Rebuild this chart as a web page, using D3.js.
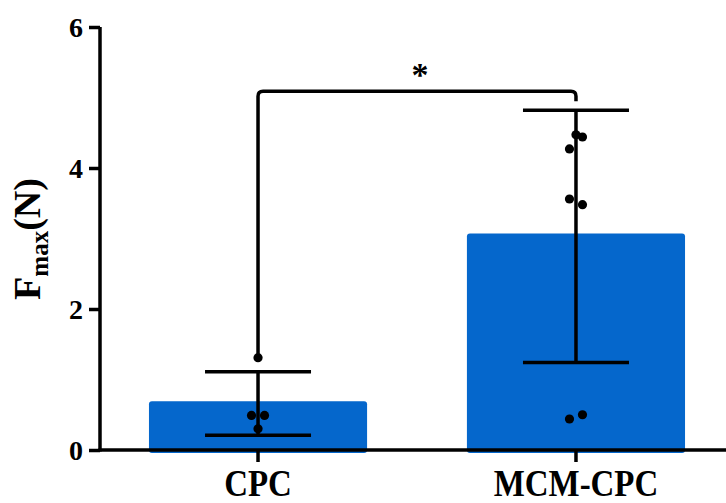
<!DOCTYPE html>
<html>
<head>
<meta charset="utf-8">
<script src="https://cdn.jsdelivr.net/npm/d3@7"></script>
<style>
  body { margin: 0; background: #fff; }
  svg { display: block; }
  text { font-family: "Liberation Serif", "Times New Roman", serif; font-weight: bold; fill: #000; }
</style>
</head>
<body>
<div class="chart"></div>
<script>
// data
var groups = ["CPC", "MCM-CPC"];
var means = [0.69, 3.07];
var errLow = [0.21, 1.24];
var errHigh = [1.11, 4.82];
var cpcPoints = [1.31, 0.49, 0.49, 0.30];
var cpcSide = [0, -1, 1, 0];
var mcmPoints = [4.47, 4.44, 4.27, 3.56, 3.48, 0.50, 0.44];
var mcmSide = [0, 1, -1, -1, 1, 1, -1];
var yTicks = [0, 2, 4, 6];
var sigLabel = "*";
var sigLevel = 5.09;

var W = 726, H = 503;
var margin = {top: 27, left: 100, bottom: 53};

var svg = d3.select(".chart").append("svg")
    .attr("width", W)
    .attr("height", H);

var y = d3.scaleLinear().domain([0, 6]).range([H - margin.bottom, margin.top]);
var x = d3.scaleBand().domain(groups).range([margin.left, 734])
    .paddingInner(0.314).paddingOuter(0.154);
var cx = function(g) { return x(g) + x.bandwidth() / 2; };

// bars
svg.append("g").selectAll("rect")
    .data(groups)
    .enter().append("rect")
    .attr("x", function(d) { return x(d); })
    .attr("width", x.bandwidth())
    .attr("y", function(d, i) { return y(means[i]); })
    .attr("height", function(d, i) { return y(0) - y(means[i]) + 3; })
    .attr("rx", 3)
    .attr("fill", "#0567CC");

// error bars
var capHalf = 53;
var eb = svg.append("g").attr("stroke", "#000").attr("stroke-width", 3.5).attr("fill", "none");
groups.forEach(function(g, i) {
    eb.append("line").attr("x1", cx(g)).attr("x2", cx(g))
        .attr("y1", y(errLow[i])).attr("y2", y(errHigh[i]));
    eb.append("line").attr("x1", cx(g) - capHalf).attr("x2", cx(g) + capHalf)
        .attr("y1", y(errLow[i])).attr("y2", y(errLow[i]));
    eb.append("line").attr("x1", cx(g) - capHalf).attr("x2", cx(g) + capHalf)
        .attr("y1", y(errHigh[i])).attr("y2", y(errHigh[i]));
});

// individual points
var pts = [];
cpcPoints.forEach(function(v, i) { pts.push({g: "CPC", v: v, s: cpcSide[i]}); });
mcmPoints.forEach(function(v, i) { pts.push({g: "MCM-CPC", v: v, s: mcmSide[i]}); });
svg.append("g").selectAll("circle")
    .data(pts)
    .enter().append("circle")
    .attr("cx", function(d) { return cx(d.g) + d.s * 6.5; })
    .attr("cy", function(d) { return y(d.v); })
    .attr("r", 4.6)
    .attr("fill", "#000");

// significance bracket
var bx1 = cx(groups[0]), bx2 = cx(groups[1]), by = y(sigLevel), r = 5;
var leftEnd = y(cpcPoints[0]) - 4, rightEnd = y(errHigh[1]) - 9;
var p = d3.path();
p.moveTo(bx1, leftEnd);
p.lineTo(bx1, by + r);
p.quadraticCurveTo(bx1, by, bx1 + r, by);
p.lineTo(bx2 - r, by);
p.quadraticCurveTo(bx2, by, bx2, by + r);
p.lineTo(bx2, rightEnd);
svg.append("path").attr("d", p.toString())
    .attr("fill", "none").attr("stroke", "#000").attr("stroke-width", 3.5);
svg.append("text")
    .attr("x", (bx1 + bx2) / 2 + 3)
    .attr("y", by - 5)
    .attr("text-anchor", "middle")
    .style("font-size", "34px")
    .text(sigLabel);

// axes
var yAxis = svg.append("g")
    .attr("transform", "translate(" + margin.left + ",0)")
    .call(d3.axisLeft(y).tickValues(yTicks).tickFormat(d3.format("d")).tickSize(11).tickSizeOuter(0).tickPadding(6));
yAxis.select(".domain").attr("stroke-width", 3.5)
    .attr("d", "M0," + (y(0) + 1.5) + "V" + y(6));
yAxis.selectAll(".tick line").attr("stroke-width", 3.5);
yAxis.selectAll(".tick text").style("font-size", "28px")
    .style("font-family", "Liberation Serif").style("font-weight", "bold").attr("dy", "0.34em");

var xAxis = svg.append("g")
    .attr("transform", "translate(0," + y(0) + ")")
    .call(d3.axisBottom(x).tickSize(12).tickSizeOuter(0));
xAxis.select(".domain").attr("stroke-width", 3.5)
    .attr("d", "M" + (margin.left - 1.5) + ",0H" + W);
xAxis.selectAll(".tick line").attr("stroke-width", 3.5);
xAxis.selectAll(".tick text").style("font-size", "37px")
    .style("font-family", "Liberation Serif").style("font-weight", "bold")
    .attr("y", 46).attr("dy", 0)
    .attr("transform", "scale(0.89,1)");

// y title
var title = svg.append("text")
    .attr("transform", "translate(40," + 239 + ") rotate(-90)")
    .attr("text-anchor", "middle")
    .style("font-size", "38px");
title.append("tspan").text("F");
title.append("tspan").attr("dy", 8).style("font-size", "25px").text("max");
title.append("tspan").attr("dy", -8).text("(N)");
</script>
</body>
</html>
